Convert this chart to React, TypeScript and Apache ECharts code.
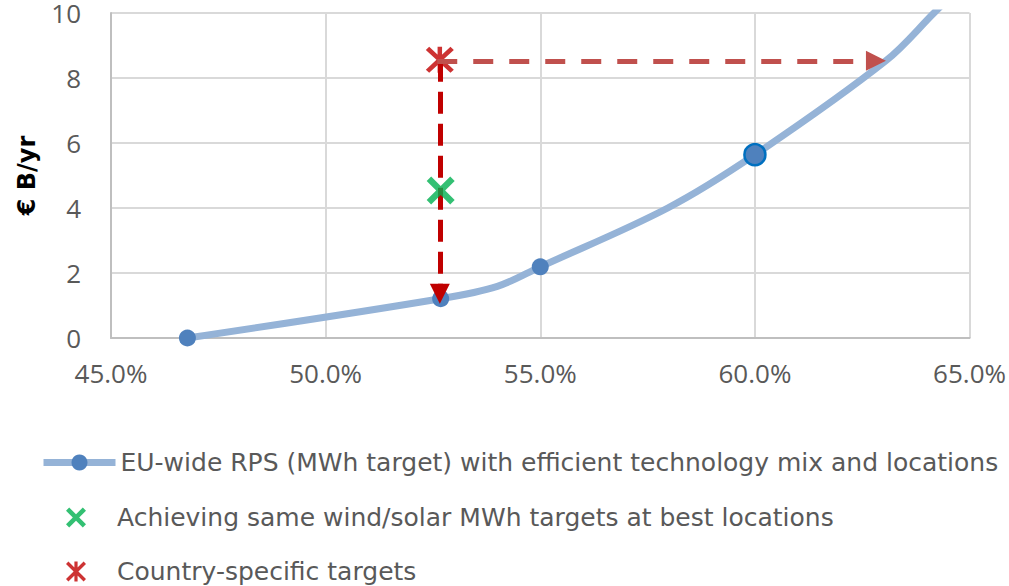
import React, { useEffect, useRef } from "react";
import * as echarts from "echarts";

// ---- data ----
const xTicks = [45, 50, 55, 60, 65];
const yTicks = [0, 2, 4, 6, 8, 10];

const seriesNames = [
  "EU-wide RPS (MWh target) with efficient technology mix and locations",
  "Achieving same wind/solar MWh targets at best locations",
  "Country-specific targets",
];

// EU-wide RPS curve (x = share %, y = € B/yr)
const curveX = [46.78, 52.68, 54.0, 55.0, 57.97, 60.0, 63.05, 64.17, 65.0];
const curveY = [0, 1.21, 1.59, 2.19, 4.0, 5.64, 8.53, 10.0, 11.1];
// marker kind for each curve point
const curveMarker = ["dot", "dot", "none", "dot", "none", "big", "none", "none", "none"];

const greenX = [52.68];
const greenY = [4.54];
const redX = [52.66];
const redY = [8.56];

const verticalArrowX = [52.66, 52.66];
const verticalArrowY = [8.56, 1.36];
const horizontalArrowX = [52.6, 62.82];
const horizontalArrowY = [8.53, 8.53];

const GREEN_X =
  "path://M0,1.6L1.6,0L5,3.4L8.4,0L10,1.6L6.6,5L10,8.4L8.4,10L5,6.6L1.6,10L0,8.4L3.4,5Z";
const RED_STAR =
  "path://M0,1.2L1.2,0L5,3.8L8.8,0L10,1.2L6.2,5L10,8.8L8.8,10L5,6.2L1.2,10L0,8.8L3.8,5Z M4.2,0L5.8,0L5.8,10L4.2,10Z";

// legend row tops
const legendTops = [450, 505, 559];

export default function App() {
  const ref = useRef<HTMLDivElement>(null);

  useEffect(() => {
    if (!ref.current) return;
    const chart = echarts.init(ref.current, undefined, { renderer: "svg" });

    const curveData = curveX.map((x, i) => {
      const kind = curveMarker[i];
      if (kind === "none") return { value: [x, curveY[i]], symbol: "none" };
      if (kind === "big")
        return {
          value: [x, curveY[i]],
          symbolSize: 21,
          itemStyle: { color: "#4F81BD", borderColor: "#0070C0", borderWidth: 2.5 },
        };
      return { value: [x, curveY[i]] };
    });

    const tickFont = { fontFamily: "Open Sans", fontSize: 26, color: "#595959" };

    const legendBase = {
      orient: "horizontal",
      padding: 0,
      itemWidth: 72,
      itemHeight: 20,
      selectedMode: false,
      textStyle: {
        fontFamily: "DejaVu Sans",
        fontSize: 25,
        color: "#595959",
      },
    };

    chart.setOption({
      animation: false,
      backgroundColor: "#ffffff",
      grid: { left: 111, right: 39, top: 13, bottom: 248, containLabel: false },
      xAxis: {
        type: "value",
        min: xTicks[0],
        max: xTicks[xTicks.length - 1],
        interval: 5,
        axisLine: { show: true, lineStyle: { color: "#BFBFBF", width: 2 } },
        axisTick: { show: false },
        splitLine: { show: true, lineStyle: { color: "#D9D9D9", width: 2 } },
        axisLabel: {
          ...tickFont,
          margin: 22,
          formatter: (v: number) => v.toFixed(1) + "%",
        },
      },
      yAxis: {
        type: "value",
        min: yTicks[0],
        max: yTicks[yTicks.length - 1],
        interval: 2,
        name: "€ B/yr",
        nameLocation: "middle",
        nameGap: 72,
        nameTextStyle: {
          fontFamily: "DejaVu Sans",
          fontWeight: "bold",
          fontSize: 24,
          color: "#000000",
        },
        axisLine: { show: true, lineStyle: { color: "#BFBFBF", width: 2 } },
        axisTick: { show: false },
        splitLine: { show: true, lineStyle: { color: "#D9D9D9", width: 2 } },
        axisLabel: { ...tickFont, margin: 30 },
      },
      legend: [
        {
          ...legendBase,
          left: 40,
          top: legendTops[0],
          data: [{ name: seriesNames[0], lineStyle: { width: 7, color: "#95B3D7" } }],
        },
        { ...legendBase, left: 66, top: legendTops[1], data: [{ name: seriesNames[1] }] },
        { ...legendBase, left: 66, top: legendTops[2], data: [{ name: seriesNames[2] }] },
      ],
      series: [
        {
          name: seriesNames[0],
          type: "line",
          z: 2,
          smooth: 0.35,
          symbol: "circle",
          symbolSize: 17,
          clip: true,
          itemStyle: { color: "#4F81BD" },
          lineStyle: { color: "#95B3D7", width: 7 },
          data: curveData,
        },
        {
          name: "vertical-arrow",
          type: "lines",
          coordinateSystem: "cartesian2d",
          z: 3,
          silent: true,
          symbol: ["none", "triangle"],
          symbolSize: 20,
          itemStyle: { color: "#C00000" },
          lineStyle: { color: "#C00000", width: 5, type: [22, 10], opacity: 1, curveness: 0 },
          data: [
            {
              coords: verticalArrowX.map((x, i) => [x, verticalArrowY[i]]),
            },
          ],
        },
        {
          name: seriesNames[1],
          type: "scatter",
          z: 4,
          symbol: GREEN_X,
          symbolSize: 28,
          itemStyle: { color: "#00B050" },
          data: greenX.map((x, i) => [x, greenY[i]]),
        },
        {
          name: seriesNames[2],
          type: "scatter",
          z: 3,
          symbol: RED_STAR,
          symbolSize: [28, 26],
          itemStyle: { color: "#C00000" },
          data: redX.map((x, i) => [x, redY[i]]),
        },
        {
          name: "horizontal-arrow",
          type: "lines",
          coordinateSystem: "cartesian2d",
          z: 5,
          silent: true,
          symbol: ["none", "triangle"],
          symbolSize: 20,
          itemStyle: { color: "#C0504D" },
          lineStyle: { color: "#C0504D", width: 5, type: [20, 16], opacity: 1, curveness: 0 },
          data: [
            {
              coords: horizontalArrowX.map((x, i) => [x, horizontalArrowY[i]]),
            },
          ],
        },
      ],
    });

    return () => {
      chart.dispose();
    };
  }, []);

  return (
    <div
      ref={ref}
      style={{ position: "fixed", left: 0, top: 0, width: 1009, height: 586, background: "#fff" }}
    />
  );
}
